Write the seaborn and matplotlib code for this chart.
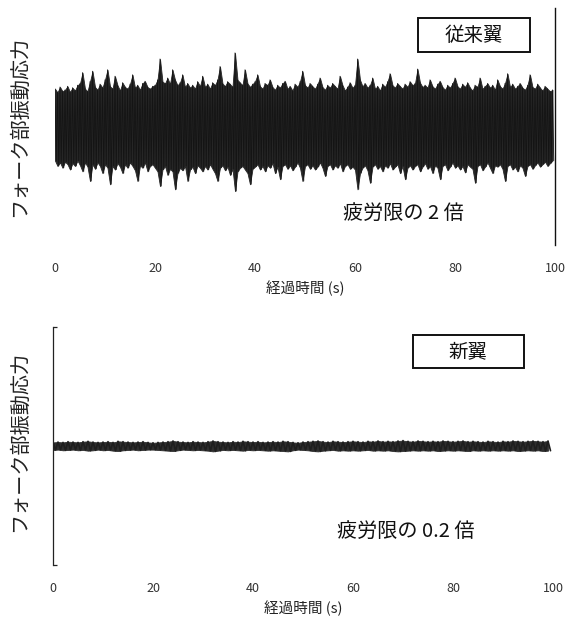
import numpy as np
import pandas as pd
import seaborn as sns
import matplotlib.pyplot as plt
from matplotlib.patches import Rectangle

# Peak envelope of the fork vibration stress
# (unit = fatigue limit, one upper and one lower peak every 0.5 s)
old_upper = [
    1.05, 0.95, 1.10, 0.98, 1.02, 1.12, 0.96, 1.08, 1.00, 1.15, 1.20, 1.50, 1.05, 0.98, 1.25, 1.54, 1.10, 1.02, 1.18, 1.08,
    1.30, 1.58, 1.12, 1.05, 1.40, 1.15, 1.00, 1.22, 1.10, 1.05, 1.18, 1.44, 1.08, 1.15, 1.02, 1.20, 1.26, 1.10, 1.05, 1.12,
    1.15, 1.30, 1.88, 1.25, 1.20, 1.35, 1.18, 1.58, 1.30, 1.15, 1.22, 1.44, 1.10, 1.20, 1.08, 1.15, 1.05, 1.25, 1.12, 1.40,
    1.10, 1.18, 1.05, 1.22, 1.15, 1.30, 1.67, 1.20, 1.12, 1.25, 1.18, 1.10, 2.05, 1.30, 1.22, 1.15, 1.58, 1.20, 1.10, 1.18,
    1.25, 1.44, 1.12, 1.05, 1.20, 1.15, 1.30, 1.10, 1.02, 1.15, 1.08, 1.20, 1.26, 1.05, 1.12, 1.00, 1.18, 1.10, 1.25, 1.54,
    1.15, 1.08, 1.20, 1.12, 1.05, 1.18, 1.35, 1.10, 1.02, 1.15, 1.08, 1.20, 1.12, 1.05, 1.40, 1.15, 1.00, 1.10, 1.22, 1.08,
    1.15, 1.88, 1.30, 1.12, 1.20, 1.08, 1.15, 1.35, 1.05, 1.12, 1.00, 1.18, 1.10, 1.25, 1.47, 1.15, 1.08, 1.20, 1.12, 1.05,
    1.18, 1.10, 1.25, 1.15, 1.20, 1.60, 1.22, 1.10, 1.15, 1.08, 1.30, 1.12, 1.05, 1.18, 1.26, 1.10, 1.02, 1.15, 1.08, 1.20,
    1.35, 1.12, 1.05, 1.18, 1.10, 1.22, 1.08, 1.00, 1.15, 1.10, 1.35, 1.05, 1.12, 1.20, 1.08, 1.15, 1.02, 1.30, 1.12, 1.05,
    1.20, 1.47, 1.10, 1.18, 1.05, 1.12, 1.20, 1.08, 1.02, 1.15, 1.44, 1.10, 1.05, 1.18, 1.08, 1.00, 1.12, 1.05, 0.98, 1.02,
]
old_lower = [
    -0.95, -1.10, -1.00, -1.15, -0.98, -1.05, -1.20, -1.02, -1.10, -0.95, -1.08, -1.25, -1.00, -1.12, -1.52, -1.05, -1.18, -1.00, -1.10, -1.30,
    -1.05, -1.15, -1.61, -1.10, -1.20, -1.02, -1.12, -1.30, -1.05, -1.15, -1.00, -1.10, -1.22, -1.52, -1.08, -1.15, -1.00, -1.25, -1.10, -1.05,
    -1.15, -1.25, -1.66, -1.20, -1.10, -1.35, -1.18, -1.25, -1.75, -1.30, -1.15, -1.22, -1.10, -1.52, -1.20, -1.12, -1.30, -1.08, -1.15, -1.25,
    -1.10, -1.20, -1.05, -1.18, -1.30, -1.52, -1.15, -1.08, -1.22, -1.12, -1.35, -1.18, -1.80, -1.25, -1.15, -1.10, -1.20, -1.30, -1.61, -1.18,
    -1.12, -1.05, -1.20, -1.10, -1.25, -1.08, -1.15, -1.02, -1.30, -1.12, -1.47, -1.10, -1.05, -1.18, -1.08, -1.22, -1.12, -1.00, -1.15, -1.52,
    -1.10, -1.05, -1.18, -1.08, -1.20, -1.12, -1.00, -1.15, -1.38, -1.10, -1.05, -1.20, -1.08, -1.15, -1.02, -1.25, -1.10, -1.05, -1.18, -1.12,
    -1.20, -1.75, -1.30, -1.15, -1.08, -1.22, -1.57, -1.12, -1.05, -1.18, -1.10, -1.25, -1.08, -1.15, -1.02, -1.20, -1.12, -1.05, -1.30, -1.10,
    -1.47, -1.15, -1.08, -1.20, -1.10, -1.05, -1.25, -1.12, -1.02, -1.18, -1.10, -1.30, -1.08, -1.15, -1.47, -1.10, -1.05, -1.22, -1.12, -1.00,
    -1.15, -1.08, -1.20, -1.10, -1.28, -1.05, -1.12, -1.18, -1.57, -1.10, -1.05, -1.22, -1.12, -1.00, -1.15, -1.30, -1.08, -1.12, -1.05, -1.18,
    -1.52, -1.10, -1.05, -1.20, -1.12, -1.25, -1.08, -1.15, -1.38, -1.10, -1.05, -1.18, -1.08, -1.00, -1.12, -1.05, -0.98, -1.10, -1.02, -0.95,
]

# new blade: one upper and one lower peak every 1 s
new_upper = [
    0.10, 0.11, 0.10, 0.12, 0.11, 0.10, 0.12, 0.13, 0.11, 0.10,
    0.11, 0.12, 0.10, 0.13, 0.12, 0.11, 0.10, 0.11, 0.12, 0.10,
    0.09, 0.10, 0.11, 0.12, 0.14, 0.12, 0.11, 0.10, 0.12, 0.11,
    0.10, 0.12, 0.14, 0.12, 0.11, 0.10, 0.12, 0.11, 0.13, 0.12,
    0.11, 0.12, 0.10, 0.11, 0.12, 0.11, 0.13, 0.12, 0.10, 0.09,
    0.11, 0.12, 0.13, 0.14, 0.12, 0.11, 0.13, 0.12, 0.11, 0.12,
    0.13, 0.12, 0.11, 0.13, 0.12, 0.14, 0.12, 0.13, 0.12, 0.14,
    0.15, 0.13, 0.12, 0.14, 0.13, 0.12, 0.13, 0.12, 0.14, 0.13,
    0.12, 0.13, 0.14, 0.12, 0.13, 0.12, 0.11, 0.13, 0.12, 0.11,
    0.13, 0.12, 0.14, 0.13, 0.12, 0.13, 0.14, 0.13, 0.12, 0.14,
]
new_lower = [
    -0.11, -0.10, -0.12, -0.11, -0.10, -0.12, -0.11, -0.13, -0.12, -0.10,
    -0.12, -0.11, -0.13, -0.14, -0.12, -0.11, -0.10, -0.12, -0.11, -0.10,
    -0.10, -0.11, -0.12, -0.13, -0.14, -0.12, -0.10, -0.11, -0.12, -0.11,
    -0.12, -0.13, -0.15, -0.13, -0.11, -0.12, -0.11, -0.12, -0.13, -0.11,
    -0.12, -0.11, -0.12, -0.13, -0.12, -0.13, -0.14, -0.15, -0.12, -0.10,
    -0.11, -0.12, -0.14, -0.15, -0.13, -0.12, -0.11, -0.13, -0.12, -0.13,
    -0.12, -0.13, -0.12, -0.11, -0.13, -0.12, -0.13, -0.12, -0.14, -0.15,
    -0.14, -0.13, -0.12, -0.13, -0.12, -0.13, -0.12, -0.14, -0.13, -0.12,
    -0.13, -0.12, -0.13, -0.14, -0.12, -0.13, -0.12, -0.13, -0.12, -0.13,
    -0.12, -0.13, -0.12, -0.14, -0.13, -0.12, -0.13, -0.12, -0.14, -0.13,
]

time_ticks = [0, 20, 40, 60, 80, 100]
ylabel = "フォーク部振動応力"
xlabel = "経過時間 (s)"


def zigzag(upper, lower, step):
    # alternate upper and lower peaks so the trace fills the band
    t = np.arange(len(upper)) * step
    times = np.column_stack([t, t + step / 2]).ravel()
    vals = np.column_stack([upper, lower]).ravel()
    return pd.DataFrame({"time": times, "stress": vals})


def draw_signal(ax, upper, lower, step, fill_color, line_color, lw):
    t = np.arange(len(upper)) * step
    ax.fill_between(t, lower, upper, color=fill_color, linewidth=0.6,
                    edgecolor=fill_color)
    sns.lineplot(data=zigzag(upper, lower, step), x="time", y="stress",
                 ax=ax, color=line_color, linewidth=lw, estimator=None)


sns.set_theme(style="white")
plt.rcParams["font.family"] = ["Noto Sans CJK JP", "DejaVu Sans"]

fig = plt.figure(figsize=(5.74, 6.18), dpi=100)
ax1 = fig.add_axes([55 / 574, 1 - 245 / 618, 500 / 574, 237 / 618])
ax2 = fig.add_axes([53 / 574, 1 - 565 / 618, 500 / 574, 238 / 618])

draw_signal(ax1, old_upper, old_lower, 0.5, "#262626", "#141414", 0.6)
draw_signal(ax2, new_upper, new_lower, 1.0, "#2e2e2e", "#1e1e1e", 1.2)

for ax in (ax1, ax2):
    ax.set_xlim(0, 100)
    ax.set_ylim(-3.3, 3.3)
    ax.set_xticks(time_ticks)
    ax.set_xticklabels([str(v) for v in time_ticks], fontsize=9, color="#333333")
    ax.tick_params(axis="x", length=0, pad=12)
    ax.set_xlabel(xlabel, fontsize=10.5, color="#222222", labelpad=4)
    ax.set_ylabel(ylabel, fontsize=14.5, color="#222222")
    for s in ax.spines.values():
        s.set_visible(False)

# top panel: only a right-hand border line
ax1.spines["right"].set_visible(True)
ax1.spines["right"].set_color("#111111")
ax1.spines["right"].set_linewidth(1.0)
ax1.set_yticks([])
ax1.yaxis.set_label_coords(-0.05, 0.5)

# bottom panel: left border with small end ticks
ax2.spines["left"].set_visible(True)
ax2.spines["left"].set_color("#222222")
ax2.spines["left"].set_linewidth(0.9)
ax2.set_yticks([-3.3, 3.3])
ax2.set_yticklabels([])
ax2.tick_params(axis="y", direction="in", length=3, width=0.9, color="#222222", left=True)
ax2.yaxis.set_label_coords(-0.046, 0.52)

# labelled boxes
ax1.add_patch(Rectangle((0.726, 0.814), 0.224, 0.1435, transform=ax1.transAxes,
                        fill=True, fc="white", ec="#111111", lw=1.4, zorder=5))
ax1.text(0.838, 0.886, "従来翼", transform=ax1.transAxes, fontsize=14,
         ha="center", va="center", color="#111111", zorder=6)
ax1.text(0.696, 0.135, "疲労限の 2 倍", transform=ax1.transAxes, fontsize=14.5,
         ha="center", va="center", color="#111111")

ax2.add_patch(Rectangle((0.72, 0.828), 0.222, 0.139, transform=ax2.transAxes,
                        fill=True, fc="white", ec="#111111", lw=1.4, zorder=5))
ax2.text(0.83, 0.897, "新翼", transform=ax2.transAxes, fontsize=14,
         ha="center", va="center", color="#111111", zorder=6)
ax2.text(0.706, 0.139, "疲労限の 0.2 倍", transform=ax2.transAxes, fontsize=14.5,
         ha="center", va="center", color="#111111")

fig.savefig("out.png", dpi=100)
plt.close(fig)
